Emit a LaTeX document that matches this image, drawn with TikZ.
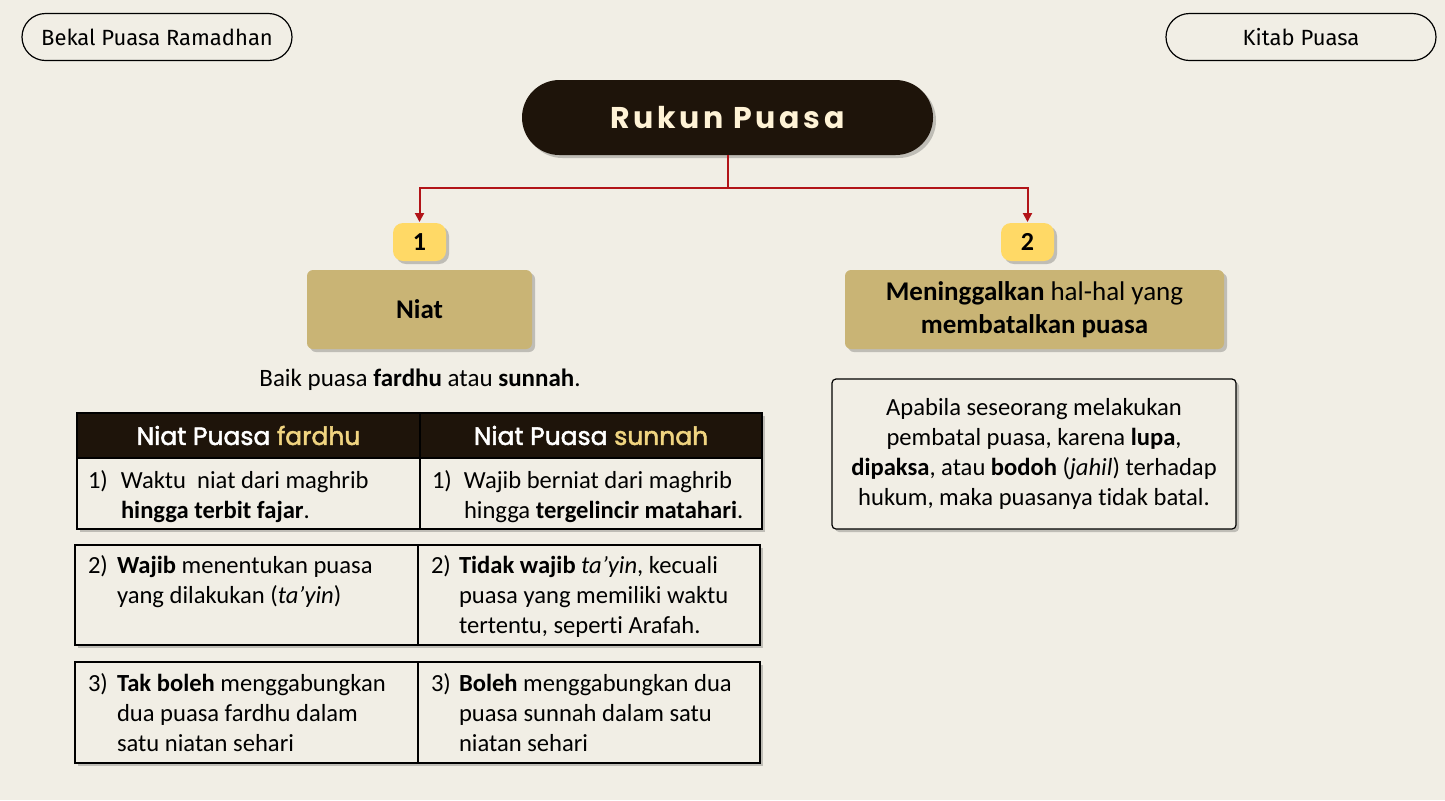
\documentclass[tikz,border=0pt]{standalone}
\usepackage{fontspec}
\setmainfont{Carlito}[Ligatures=NoCommon]
\newfontfamily\pillfont{Fira Sans}
\newfontfamily\titlefont{Poppins}[LetterSpace=12]
\newfontfamily\headfont{Poppins}[FakeBold=2]
\usetikzlibrary{arrows.meta,shadows}
\definecolor{bgcol}{RGB}{241,238,229}
\definecolor{darkcol}{RGB}{30,20,10}
\definecolor{creamcol}{RGB}{255,243,214}
\definecolor{tancol}{RGB}{201,180,117}
\definecolor{badgecol}{RGB}{255,217,102}
\definecolor{redcol}{RGB}{178,20,24}
\definecolor{goldcol}{RGB}{240,212,128}
\newcommand{\numitem}[3]{\makebox[#1][l]{#2}\parbox[t]{150pt}{\raggedright #3}}
\begin{document}
\begin{tikzpicture}[x=0.5pt,y=-0.5pt,inner sep=0pt,outer sep=0pt,
softshadow/.style={drop shadow={shadow xshift=1.5pt,shadow yshift=-1.5pt,opacity=0.3,fill=black!70}},
pill/.style={draw,rounded corners=11.75pt,minimum width=135pt,minimum height=23.5pt,line width=0.6pt,font=\pillfont\fontsize{11}{13}\selectfont},
titlebox/.style={fill=darkcol,rounded corners=18.75pt,minimum width=205.5pt,minimum height=37.5pt,text=creamcol,font=\titlefont\bfseries\fontsize{15}{18}\selectfont,softshadow},
badge/.style={fill=badgecol,rounded corners=5pt,minimum width=26.5pt,minimum height=19pt,font=\bfseries\fontsize{13}{15}\selectfont,softshadow},
tanbox/.style={fill=tancol,rounded corners=3pt,minimum height=39.5pt,align=center,font=\fontsize{13.5}{16.5}\selectfont,softshadow},
headcell/.style={draw,fill=darkcol,line width=0.6pt,minimum height=22.5pt,text=white,font=\headfont\fontsize{12.5}{15}\selectfont,softshadow},
cell/.style={draw,fill=bgcol,line width=0.6pt,softshadow},
celltext/.style={anchor=north west,font=\fontsize{12.3}{15}\selectfont},
notebox/.style={draw,fill=bgcol,rounded corners=2pt,line width=0.6pt,minimum width=202pt,minimum height=75pt,align=center,font=\fontsize{12.3}{15}\selectfont,softshadow},
link/.style={redcol,line width=1pt},
>={Triangle[width=4.5pt,length=4.5pt]}]
\fill[bgcol] (0,0) rectangle (1445,800);
\useasboundingbox (0,0) rectangle (1445,800);
\draw (157,37) node[pill] (bekal) {Bekal Puasa Ramadhan};
\draw (1301,37) node[pill] (kitab) {Kitab Puasa};
\draw (727.5,117.5) node[titlebox] (rukun) {Rukun Puasa};
\draw[link] (rukun.south) -- ++(0,33) coordinate (split);
\draw[link,->] (split) -| (419.5,222) coordinate (in1);
\draw[link,->] (split) -| (1027.5,222) coordinate (in2);
\draw (419.5,242) node[badge] (b1) {1};
\draw (1027.5,242) node[badge] (b2) {2};
\draw (419.5,309.5) node[tanbox,minimum width=112.5pt] (niat) {\textbf{Niat}};
\draw (1034.5,309.5) node[tanbox,minimum width=189.5pt] (batal) {\textbf{Meninggalkan} hal-hal yang\\\textbf{membatalkan puasa}};
\draw (420,380) node[font=\fontsize{12.5}{15}\selectfont] (baik) {Baik puasa \textbf{fardhu} atau \textbf{sunnah}.};
\draw (248.5,435.5) node[headcell,minimum width=171.5pt] (hfardhu) {Niat Puasa \textcolor{goldcol}{fardhu}};
\draw (591,435.5) node[headcell,minimum width=171pt] (hsunnah) {Niat Puasa \textcolor{goldcol}{sunnah}};
\draw (248.5,493.5) node[cell,minimum width=171.5pt,minimum height=35.5pt] (f1) {};
\draw (591,493.5) node[cell,minimum width=171pt,minimum height=35.5pt] (s1) {};
\draw (246.5,595) node[cell,minimum width=171.5pt,minimum height=50pt] (f2) {};
\draw (589,595) node[cell,minimum width=171pt,minimum height=50pt] (s2) {};
\draw (246.5,712.5) node[cell,minimum width=171.5pt,minimum height=50.5pt] (f3) {};
\draw (589,712.5) node[cell,minimum width=171pt,minimum height=50.5pt] (s3) {};
\draw (88,470.5) node[celltext] (f1text) {\numitem{16.5pt}{1)}{Waktu\ \ niat dari maghrib\\\textbf{hingga terbit fajar}.}};
\draw (432,470.5) node[celltext] (s1text) {\numitem{16pt}{1)}{Wajib berniat dari maghrib\\hingga \textbf{tergelincir matahari}.}};
\draw (88,555.5) node[celltext] (f2text) {\numitem{14.5pt}{2)}{\textbf{Wajib} menentukan puasa\\yang dilakukan (\textit{ta’yin})}};
\draw (431,555.5) node[celltext] (s2text) {\numitem{14pt}{2)}{\textbf{Tidak wajib} \textit{ta’yin}, kecuali\\puasa yang memiliki waktu\\tertentu, seperti Arafah.}};
\draw (88,673.5) node[celltext] (f3text) {\numitem{14.5pt}{3)}{\textbf{Tak boleh} menggabungkan\\dua puasa fardhu dalam\\satu niatan sehari}};
\draw (431,673.5) node[celltext] (s3text) {\numitem{14pt}{3)}{\textbf{Boleh} menggabungkan dua\\puasa sunnah dalam satu\\niatan sehari}};
\draw (1034,454) node[notebox] (note) {Apabila seseorang melakukan\\pembatal puasa, karena \textbf{lupa},\\\textbf{dipaksa}, atau \textbf{bodoh} (\textit{jahil}) terhadap\\hukum, maka puasanya tidak batal.};
\end{tikzpicture}
\end{document}
